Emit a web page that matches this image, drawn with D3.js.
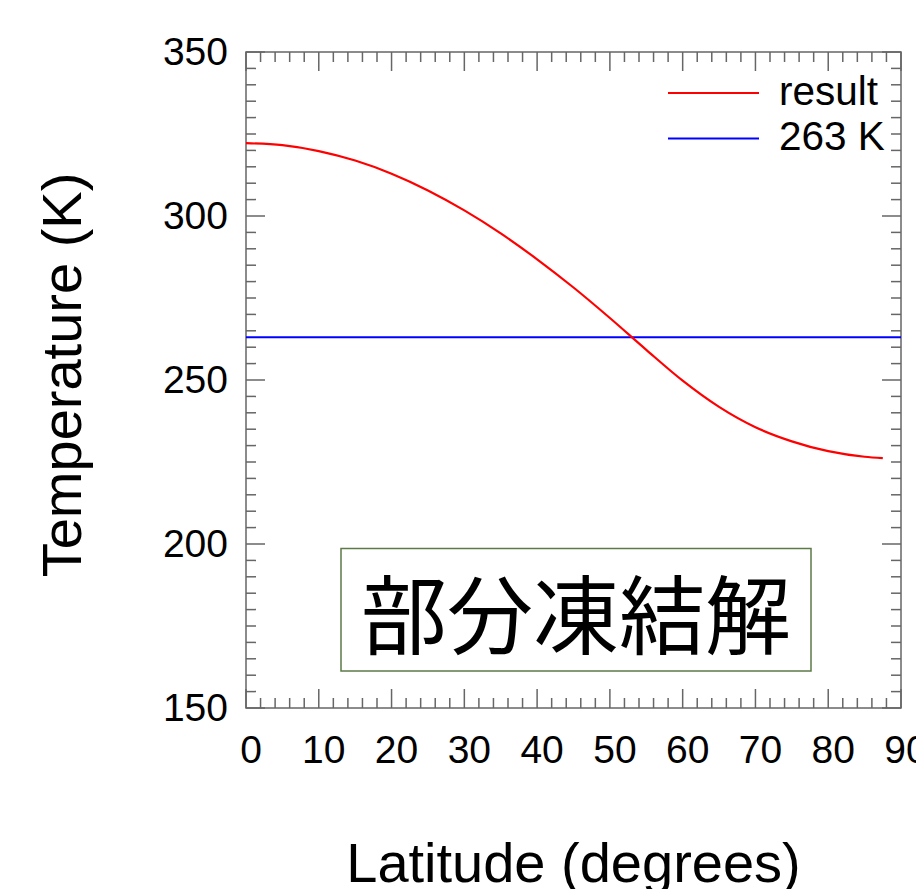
<!DOCTYPE html>
<html>
  <head>
    <meta charset="utf-8">
    <title>Temperature vs latitude</title>
    <script type="text/javascript" src="https://d3js.org/d3.v7.min.js"></script>
    <style type="text/css">
      body{ margin: 0; background: #fff; overflow: hidden; }
      #chart text{ font-family: "Liberation Sans", Arial, sans-serif; fill: #000; }
      #chart .cjk{ font-family: "Noto Sans CJK JP", "Noto Sans CJK SC", sans-serif; }
    </style>
  </head>
  <body>
    <div id="chart"></div>
    <script type="text/javascript">

      // data
      var latitudes = [0, 5, 10, 15, 20, 25, 30, 35, 40, 45, 50, 55, 60, 65, 70, 75, 80, 85, 87.5];
      var temps = [322.2, 321.6, 319.8, 316.9, 312.9, 307.8, 301.7, 294.7, 286.8, 278.2, 268.9, 259.2, 249.8, 241.8, 235.6, 231.3, 228.3, 226.6, 226.2];
      var refTemp = 263;
      var xTicks = [0, 10, 20, 30, 40, 50, 60, 70, 80, 90];
      var yTicks = [150, 200, 250, 300, 350];
      var legendLabels = ["result", "263 K"];
      var boxLabel = "部分凍結解";

      var w = 916, h = 889;
      //plot area edges
      var pL = 246, pR = 901, pT = 52, pB = 708;

      var svg = d3.select("#chart").append("svg")
        .attr("width", w)
        .attr("height", h);

      var x = d3.scaleLinear().domain([0, 90]).range([pL, pR]);
      var y = d3.scaleLinear().domain([150, 350]).range([pB, pT]);

      var axisColor = "#666";

      //minor + major ticks on all four sides, pointing inward
      function tickLines(vals, len, isX){
        vals.forEach(function(v){
          if(isX){
            svg.append("line").attr("x1", x(v)).attr("x2", x(v)).attr("y1", pB).attr("y2", pB - len)
              .attr("stroke", axisColor).attr("stroke-width", 1.5);
            svg.append("line").attr("x1", x(v)).attr("x2", x(v)).attr("y1", pT).attr("y2", pT + len)
              .attr("stroke", axisColor).attr("stroke-width", 1.5);
          } else {
            svg.append("line").attr("y1", y(v)).attr("y2", y(v)).attr("x1", pL).attr("x2", pL + len)
              .attr("stroke", axisColor).attr("stroke-width", 1.5);
            svg.append("line").attr("y1", y(v)).attr("y2", y(v)).attr("x1", pR).attr("x2", pR - len)
              .attr("stroke", axisColor).attr("stroke-width", 1.5);
          }
        });
      }
      tickLines(d3.range(0, 91, 2).filter(function(d){ return d % 10 != 0; }), 10, true);
      tickLines(xTicks, 19, true);
      tickLines(d3.range(150, 351, 5).filter(function(d){ return d % 50 != 0; }), 10, false);
      tickLines(yTicks, 19, false);

      //frame
      svg.append("rect")
        .attr("x", pL).attr("y", pT)
        .attr("width", pR - pL).attr("height", pB - pT)
        .attr("fill", "none").attr("stroke", axisColor).attr("stroke-width", 1.5);

      //tick labels
      svg.selectAll(".xlab").data(xTicks).enter().append("text")
        .attr("class", "xlab")
        .attr("x", function(d){ return x(d) + 5; })
        .attr("y", 763)
        .attr("text-anchor", "middle")
        .style("font-size", "39px")
        .text(function(d){ return d; });

      svg.selectAll(".ylab").data(yTicks).enter().append("text")
        .attr("class", "ylab")
        .attr("x", 228)
        .attr("y", function(d){ return y(d) + 13; })
        .attr("text-anchor", "end")
        .style("font-size", "39px")
        .text(function(d){ return d; });

      //axis titles
      svg.append("text")
        .attr("x", (pL + pR) / 2)
        .attr("y", 882)
        .attr("text-anchor", "middle")
        .style("font-size", "56px")
        .text("Latitude (degrees)");

      svg.append("text")
        .attr("transform", "translate(81," + 375 + ") rotate(-90)")
        .attr("text-anchor", "middle")
        .style("font-size", "56px")
        .text("Temperature (K)");

      //263 K line
      svg.append("line")
        .attr("x1", x(0)).attr("x2", x(90))
        .attr("y1", y(refTemp)).attr("y2", y(refTemp))
        .attr("stroke", "#0000ff").attr("stroke-width", 2);

      //result curve
      var line = d3.line()
        .x(function(d, i){ return x(latitudes[i]); })
        .y(function(d){ return y(d); })
        .curve(d3.curveMonotoneX);

      svg.append("path")
        .datum(temps)
        .attr("d", line)
        .attr("fill", "none")
        .attr("stroke", "#ff0000")
        .attr("stroke-width", 2.2);

      //legend
      var legColors = ["#ff0000", "#0000ff"];
      legendLabels.forEach(function(lbl, i){
        var ly = 93 + i * 45.5;
        svg.append("line")
          .attr("x1", 668).attr("x2", 759)
          .attr("y1", ly).attr("y2", ly)
          .attr("stroke", legColors[i]).attr("stroke-width", 2);
        svg.append("text")
          .attr("x", 779)
          .attr("y", ly + 11.5)
          .style("font-size", "40.5px")
          .text(lbl);
      });

      //label box
      svg.append("rect")
        .attr("x", 341).attr("y", 548.5)
        .attr("width", 470).attr("height", 122.5)
        .attr("fill", "#fff")
        .attr("stroke", "#5b7a47").attr("stroke-width", 1.5);

      svg.append("text")
        .attr("class", "cjk")
        .attr("x", 576)
        .attr("y", 610)
        .attr("text-anchor", "middle")
        .attr("dominant-baseline", "central")
        .style("font-size", "86px")
        .text(boxLabel);

    </script>
  </body>
</html>
